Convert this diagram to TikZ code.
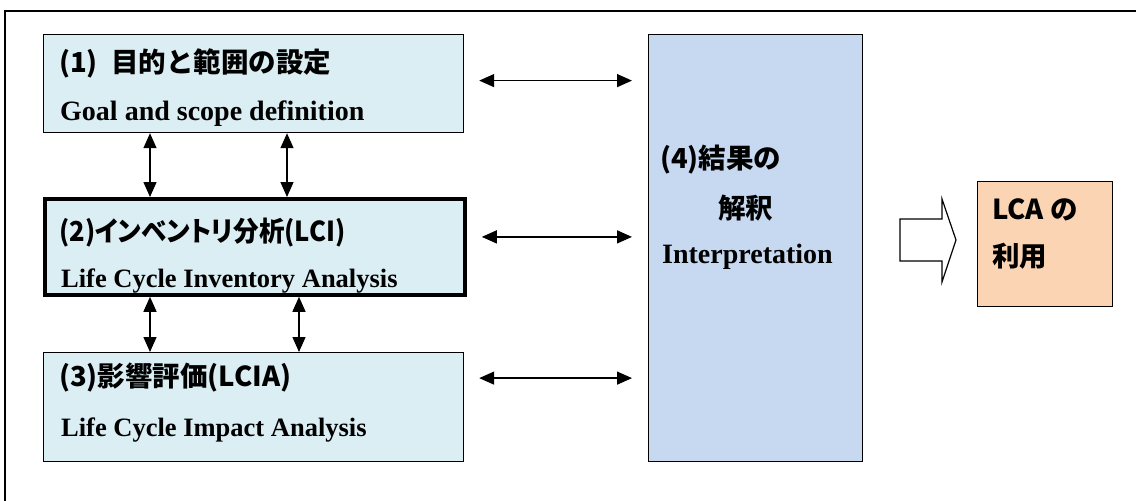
\documentclass[tikz,border=0pt]{standalone}
\usepackage{fontspec}
\setmainfont{Liberation Serif}
\newfontfamily\jpfont{Noto Sans CJK JP}
\usetikzlibrary{arrows.meta}

\definecolor{stageblue}{HTML}{DBEEF4}
\definecolor{interpblue}{HTML}{C6D9F1}
\definecolor{useorange}{HTML}{FBD4B4}

\tikzset{
	stagebox/.style={draw=black, line width=1.2pt, fill=stageblue, anchor=north west, inner sep=0pt},
	jptext/.style={anchor=west, inner sep=0pt, font=\jpfont\bfseries\fontsize{27.5}{32}\selectfont},
	entext/.style={anchor=base west, inner sep=0pt, font=\bfseries\fontsize{26.5}{30}\selectfont},
	link/.style={line width=1.4pt, {Triangle[length=15pt,width=13pt]}-{Triangle[length=15pt,width=13pt]}}
}

\begin{document}
\begin{tikzpicture}[x=1pt,y=-1pt]
	
	\useasboundingbox (0,0) rectangle (1136,501);
	
	% Outer frame
	\draw[line width=1.5pt] (5,501) -- (5,11) -- (1136,11);
	
	% Stage boxes
	\node[stagebox, minimum width=420pt, minimum height=98pt] (goal) at (43,34) {};
	\node[stagebox, line width=3.8pt, minimum width=420pt, minimum height=96pt] (inv) at (43,197) {};
	\node[stagebox, minimum width=420pt, minimum height=109pt] (impact) at (43,352) {};
	
	% Interpretation box
	\node[stagebox, fill=interpblue, minimum width=214pt, minimum height=427pt] (interp) at (648,34) {};
	
	% LCA use box
	\node[stagebox, fill=useorange, minimum width=135pt, minimum height=125pt] (use) at (977,181) {};
	
	% Label stages
	\node[jptext] (goalJ) at (59,63) {(1)\hspace{7pt} 目的と範囲の設定};
	\node[entext, font=\bfseries\fontsize{28}{30}\selectfont] (goalE) at (60,120) {Goal and scope definition};
	\node[jptext] (invJ) at (59,233) {\addfontfeatures{RawFeature=+palt,FakeStretch=0.93}(2)インベントリ分析(LCI)};
	\node[entext] (invE) at (61,287) {Life Cycle Inventory Analysis};
	\node[jptext] (impactJ) at (59,378) {(3)影響評価(LCIA)};
	\node[entext] (impactE) at (61,436) {Life Cycle Impact Analysis};
	
	% Label interpretation
	\node[jptext] (interpJ) at (660,160) {(4)結果の};
	\node[jptext] (interpK) at (718,208) {解釈};
	\node[entext, font=\bfseries\fontsize{28}{30}\selectfont] (interpE) at (662,263) {Interpretation};
	
	% Label LCA use
	\node[jptext] (useA) at (992,210) {LCA の};
	\node[jptext] (useB) at (992,256) {利用};
	
	% Links between stages
	\draw[link] ([xshift=107pt]goal.south west) -- ([xshift=107pt]inv.north west);
	\draw[link] ([xshift=244pt]goal.south west) -- ([xshift=244pt]inv.north west);
	\draw[link] ([xshift=107pt]inv.south west) -- ([xshift=107pt]impact.north west);
	\draw[link] ([xshift=256pt]inv.south west) -- ([xshift=256pt]impact.north west);
	
	% Links to interpretation
	\draw[link, shorten <=15pt, shorten >=16pt] ([yshift=3pt]goal.east) -- ([yshift=3pt]goal.east -| interp.west);
	\draw[link, shorten <=15pt, shorten >=16pt] ([yshift=10pt]inv.east) -- ([yshift=10pt]inv.east -| interp.west);
	\draw[link, shorten <=15pt, shorten >=16pt] ([yshift=29pt]impact.east) -- ([yshift=29pt]impact.east -| interp.west);
	
	% Block arrow
	\draw[line width=1.2pt, fill=white] (900,219) -- (942,219) -- (942,199) -- (956,240) -- (942,282) -- (942,261) -- (900,261) -- cycle;
	
\end{tikzpicture}
\end{document}
